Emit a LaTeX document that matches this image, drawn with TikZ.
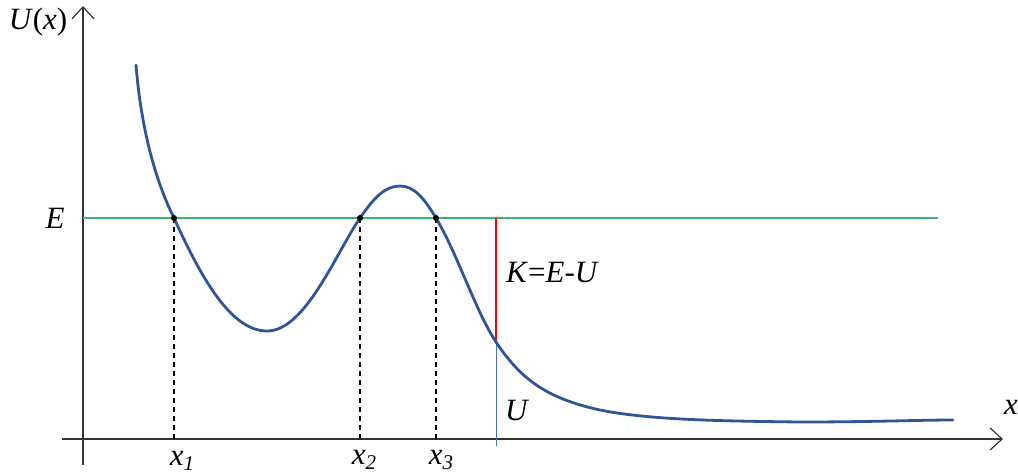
\documentclass[tikz,border=0pt]{standalone}
\usepackage{fontspec}
\setmainfont{Liberation Serif}
\usetikzlibrary{arrows.meta}
\definecolor{curveblue}{HTML}{2F5597}
\definecolor{egreen}{HTML}{3CB371}
\definecolor{ublue}{HTML}{4472C4}
\tikzset{
  lbl/.style={font=\fontsize{31}{34}\selectfont\itshape, inner sep=0pt},
  axisline/.style={line width=1.2pt, black!80, -{Straight Barb[length=12pt,width=22pt,line width=1.2pt]}},
  guide/.style={line width=1.1pt, dashed, dash pattern=on 5pt off 4pt},
  pt/.style={circle, fill=black, inner sep=0pt, minimum size=6pt}
}
\newcommand{\subs}[1]{\raisebox{-0.35ex}{\fontsize{21}{21}\selectfont #1}}
\begin{document}
\begin{tikzpicture}[x=1pt,y=-1pt]
\useasboundingbox (0,0) rectangle (1018,475);
% axes
\coordinate (yb) at (83,465);
\coordinate (yt) at (83,6);
\coordinate (xl) at (62,439);
\coordinate (xr) at (1003,439);
\draw[axisline] (yb) -- (yt);
\draw[axisline] (xl) -- (xr);
% energy line
\coordinate (e0) at (83,218);
\coordinate (e1) at (938,218);
\draw[egreen, line width=1.2pt] (e0) -- (e1);
% turning points
\coordinate (p1) at (174,218);
\coordinate (p2) at (360,218);
\coordinate (p3) at (436,218);
\coordinate (q1) at (174,439);
\coordinate (q2) at (360,439);
\coordinate (q3) at (436,439);
\draw[guide] (p1) -- (q1);
\draw[guide] (p2) -- (q2);
\draw[guide] (p3) -- (q3);
% K and U lines
\coordinate (kt) at (496,218);
\coordinate (km) at (496,342);
\coordinate (kb) at (496,446);
\draw[red, line width=1.3pt] (kt) -- (km);
\draw[ublue, line width=1pt] (km) -- (kb);
% curve
\draw[curveblue, line width=2.8pt, line cap=round] (136,65)
  .. controls (142,140) and (160,190) .. (174,218)
  .. controls (200,275) and (230,331) .. (267,331)
  .. controls (305,331) and (335,255) .. (360,218)
  .. controls (375,196) and (386,186) .. (400,186)
  .. controls (414,186) and (424,198) .. (436,218)
  .. controls (458,255) and (475,310) .. (496,342)
  .. controls (520,378) and (545,398) .. (600,410)
  .. controls (650,420) and (720,421) .. (800,422)
  .. controls (870,422) and (920,420) .. (953,420);
% dots
\node[pt] at (p1) {};
\node[pt] at (p2) {};
\node[pt] at (p3) {};
% labels
\node[lbl] (ux) at (38,22) {U\textup{(}x\textup{)}};
\node[lbl] (E) at (55,218) {E};
\node[lbl, anchor=west] (K) at (506,272) {K\textup{=}E-U};
\node[lbl, anchor=west] (U) at (505,410) {U};
\node[lbl] (x) at (1011,407) {x};
\node[lbl] (x1) at (182,461) {x\subs{1}};
\node[lbl] (x2) at (364,460) {x\subs{2}};
\node[lbl] (x3) at (441,460) {x\subs{3}};
\end{tikzpicture}
\end{document}
